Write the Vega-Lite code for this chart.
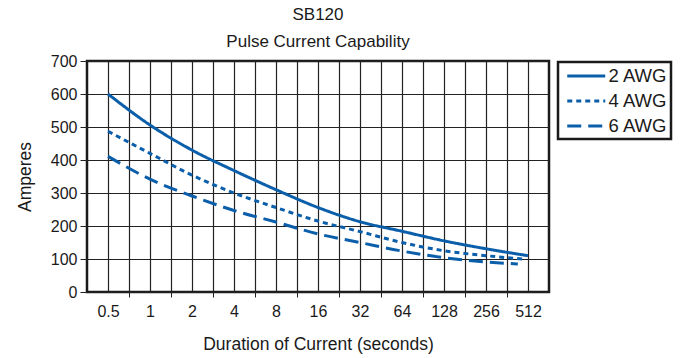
{
  "$schema": "https://vega.github.io/schema/vega-lite/v6.json",
  "width": 462,
  "height": 231,
  "autosize": {"type": "none"},
  "padding": {"left": 87, "top": 61, "right": 137, "bottom": 66},
  "background": "white",
  "title": {
    "text": ["SB120", "Pulse Current Capability"],
    "font": "Liberation Sans",
    "fontSize": 17,
    "fontWeight": "normal",
    "color": "#1a1a1a",
    "lineHeight": 27,
    "offset": 2,
    "anchor": "middle"
  },
  "config": {
    "view": {"stroke": "#1a1a1a", "strokeWidth": 2.5},
    "axis": {
      "labelFont": "Liberation Sans",
      "titleFont": "Liberation Sans",
      "labelColor": "#1a1a1a",
      "titleColor": "#1a1a1a",
      "titleFontWeight": "normal",
      "gridColor": "#222222",
      "gridWidth": 1.2,
      "gridOpacity": 1,
      "tickColor": "#222222"
    },
    "legend": {"strokeWidth": 2.5}
  },
  "data": {
    "values": [
      {"t": 0.5, "amps": 600, "wire": "2 AWG"},
      {"t": 1, "amps": 506, "wire": "2 AWG"},
      {"t": 2, "amps": 430, "wire": "2 AWG"},
      {"t": 4, "amps": 368, "wire": "2 AWG"},
      {"t": 8, "amps": 310, "wire": "2 AWG"},
      {"t": 16, "amps": 256, "wire": "2 AWG"},
      {"t": 32, "amps": 213, "wire": "2 AWG"},
      {"t": 64, "amps": 184, "wire": "2 AWG"},
      {"t": 128, "amps": 155, "wire": "2 AWG"},
      {"t": 256, "amps": 131, "wire": "2 AWG"},
      {"t": 512, "amps": 110, "wire": "2 AWG"},
      {"t": 0.5, "amps": 487, "wire": "4 AWG"},
      {"t": 1, "amps": 420, "wire": "4 AWG"},
      {"t": 2, "amps": 354, "wire": "4 AWG"},
      {"t": 4, "amps": 300, "wire": "4 AWG"},
      {"t": 8, "amps": 256, "wire": "4 AWG"},
      {"t": 16, "amps": 215, "wire": "4 AWG"},
      {"t": 32, "amps": 183, "wire": "4 AWG"},
      {"t": 64, "amps": 150, "wire": "4 AWG"},
      {"t": 128, "amps": 125, "wire": "4 AWG"},
      {"t": 256, "amps": 110, "wire": "4 AWG"},
      {"t": 471, "amps": 100, "wire": "4 AWG"},
      {"t": 0.5, "amps": 411, "wire": "6 AWG"},
      {"t": 1, "amps": 342, "wire": "6 AWG"},
      {"t": 2, "amps": 291, "wire": "6 AWG"},
      {"t": 4, "amps": 247, "wire": "6 AWG"},
      {"t": 8, "amps": 212, "wire": "6 AWG"},
      {"t": 16, "amps": 176, "wire": "6 AWG"},
      {"t": 32, "amps": 150, "wire": "6 AWG"},
      {"t": 64, "amps": 124, "wire": "6 AWG"},
      {"t": 128, "amps": 104, "wire": "6 AWG"},
      {"t": 256, "amps": 91, "wire": "6 AWG"},
      {"t": 433, "amps": 85, "wire": "6 AWG"}
    ]
  },
  "mark": {"type": "line", "interpolate": "monotone", "strokeWidth": 3, "color": "#0b5ea9"},
  "encoding": {
    "x": {
      "field": "t",
      "type": "quantitative",
      "scale": {"type": "log", "base": 2, "domain": [0.353553, 724.077], "nice": false},
      "axis": {
        "title": "Duration of Current (seconds)",
        "titleFontSize": 17.5,
        "titlePadding": 16,
        "values": [0.5, 0.707107, 1, 1.414214, 2, 2.828427, 4, 5.656854, 8, 11.313708, 16, 22.627417, 32, 45.254834, 64, 90.509668, 128, 181.019336, 256, 362.038672, 512],
        "format": "~g",
        "labelExpr": "abs(log(datum.value)/LN2 - round(log(datum.value)/LN2)) < 0.01 ? datum.label : ''",
        "labelFontSize": 16,
        "labelPadding": 6,
        "labelFlush": false,
        "labelOverlap": false,
        "tickSize": 5,
        "tickOpacity": {"condition": {"test": "abs(log(datum.value)/LN2 - round(log(datum.value)/LN2)) < 0.01", "value": 0}, "value": 1},
        "domain": false,
        "grid": true
      }
    },
    "y": {
      "field": "amps",
      "type": "quantitative",
      "scale": {"domain": [0, 700], "nice": false},
      "axis": {
        "title": "Amperes",
        "titleFontSize": 17.5,
        "titlePadding": 16,
        "values": [0, 100, 200, 300, 400, 500, 600, 700],
        "labelFontSize": 16,
        "labelPadding": 3,
        "labelFlush": false,
        "tickSize": 7,
        "domain": false,
        "grid": true
      }
    },
    "strokeDash": {
      "field": "wire",
      "type": "nominal",
      "scale": {"domain": ["2 AWG", "4 AWG", "6 AWG"], "range": [[1, 0], [5, 4], [14, 7]]},
      "legend": {
        "title": null,
        "orient": "none",
        "legendX": 471,
        "legendY": 1,
        "padding": 3,
        "strokeColor": "#1a1a1a",
        "fillColor": "white",
        "symbolType": "M-0.5,0H3.5",
        "symbolSize": 361,
        "symbolStrokeWidth": 3,
        "symbolStrokeColor": "#0b5ea9",
        "labelFont": "Liberation Sans",
        "labelFontSize": 18.5,
        "labelColor": "#1a1a1a",
        "labelOffset": 25.5,
        "labelExpr": "datum.label + '\u2002'",
        "rowPadding": 4
      }
    }
  }
}
